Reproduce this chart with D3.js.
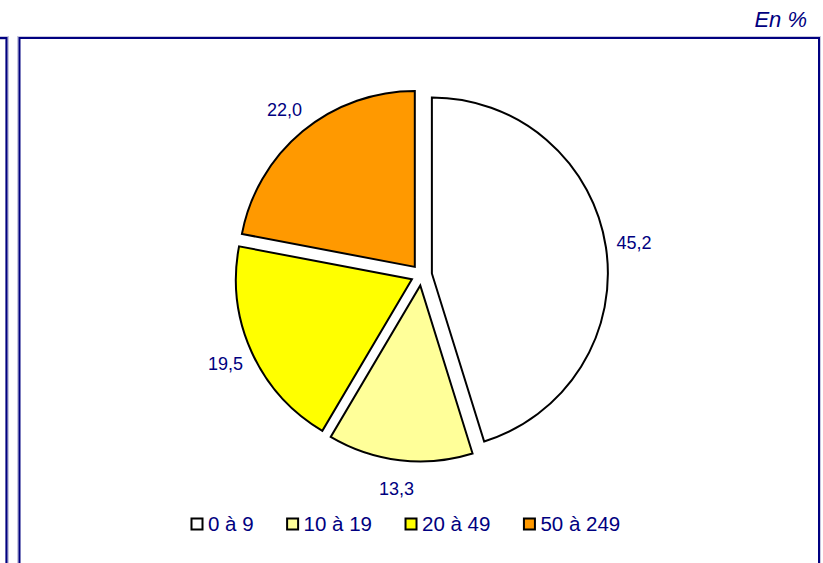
<!DOCTYPE html>
<html>
<head>
<meta charset="utf-8">
<script src="https://cdn.jsdelivr.net/npm/d3@7"></script>
<style>
  body { margin: 0; background: #fff; }
  svg { display: block; font-family: Arial, "Liberation Sans", sans-serif; }
</style>
</head>
<body>
<div id="chart"></div>
<script>
// Data
const categories = ["0 à 9", "10 à 19", "20 à 49", "50 à 249"];
const values     = [45.2, 13.3, 19.5, 22.0];
const labels     = ["45,2", "13,3", "19,5", "22,0"];
const colors     = ["#ffffff", "#ffff99", "#ffff00", "#ff9900"];

// Sizes
const width  = 823;
const height = 563;
const navy   = "#000080";

const cx = 421.5, cy = 275;
const radius     = 176;
const explode    = 10.5;
const labelRadius = 215;

const svg = d3.select("#chart").append("svg")
  .attr("width", width)
  .attr("height", height);

// Frames (left panel edge + main panel)
const frames = svg.append("g");
frames.append("path")
  .attr("d", `M-5,38 H7 V${height + 5}`)
  .attr("fill", "none").attr("stroke", "#c8c8e0").attr("stroke-width", 4);
frames.append("path")
  .attr("d", `M-5,38 H6.5 V${height + 5}`)
  .attr("fill", "none").attr("stroke", navy).attr("stroke-width", 2);
frames.append("rect")
  .attr("x", 18.5).attr("y", 37.5).attr("width", 801).attr("height", height)
  .attr("fill", "none").attr("stroke", "#c8c8e0").attr("stroke-width", 3);
frames.append("rect")
  .attr("x", 19.5).attr("y", 38).attr("width", 799.5).attr("height", height)
  .attr("fill", "#fff").attr("stroke", navy).attr("stroke-width", 2);

// Unit
svg.append("text")
  .attr("x", 807).attr("y", 27)
  .attr("text-anchor", "end")
  .attr("font-size", 22)
  .attr("font-style", "italic")
  .attr("fill", navy)
  .text("En %");

// Pie
const pie = d3.pie().sort(null).value(d => d.value)(
  categories.map((c, i) => ({ name: c, value: values[i], label: labels[i], color: colors[i] }))
);
const arc = d3.arc().innerRadius(0).outerRadius(radius);
const labelArc = d3.arc().innerRadius(labelRadius).outerRadius(labelRadius);

const g = svg.append("g").attr("transform", `translate(${cx},${cy})`);

g.selectAll("path.slice")
  .data(pie)
  .enter().append("path")
  .attr("class", "slice")
  .attr("d", arc)
  .attr("transform", d => {
    const a = (d.startAngle + d.endAngle) / 2;
    return `translate(${explode * Math.sin(a)},${-explode * Math.cos(a)})`;
  })
  .attr("fill", d => d.data.color)
  .attr("stroke", "#000")
  .attr("stroke-width", 2)
  .attr("stroke-linejoin", "miter");

g.selectAll("text.lbl")
  .data(pie)
  .enter().append("text")
  .attr("class", "lbl")
  .attr("transform", d => `translate(${labelArc.centroid(d)})`)
  .attr("text-anchor", "middle")
  .attr("dy", "0.35em")
  .attr("font-size", 18)
  .attr("fill", navy)
  .text(d => d.data.label);

// Legend
const legend = svg.append("g").attr("transform", "translate(191,524)");
let lx = 0;
categories.forEach((c, i) => {
  const item = legend.append("g").attr("transform", `translate(${lx},0)`);
  item.append("rect")
    .attr("x", 0.5).attr("y", -5.5).attr("width", 11).attr("height", 11)
    .attr("fill", colors[i]).attr("stroke", "#000").attr("stroke-width", 2);
  const t = item.append("text")
    .attr("x", 17).attr("dy", "0.35em")
    .attr("font-size", 20.5)
    .attr("fill", navy)
    .text(c);
  lx += 17 + t.node().getComputedTextLength() + 33;
});
</script>
</body>
</html>
